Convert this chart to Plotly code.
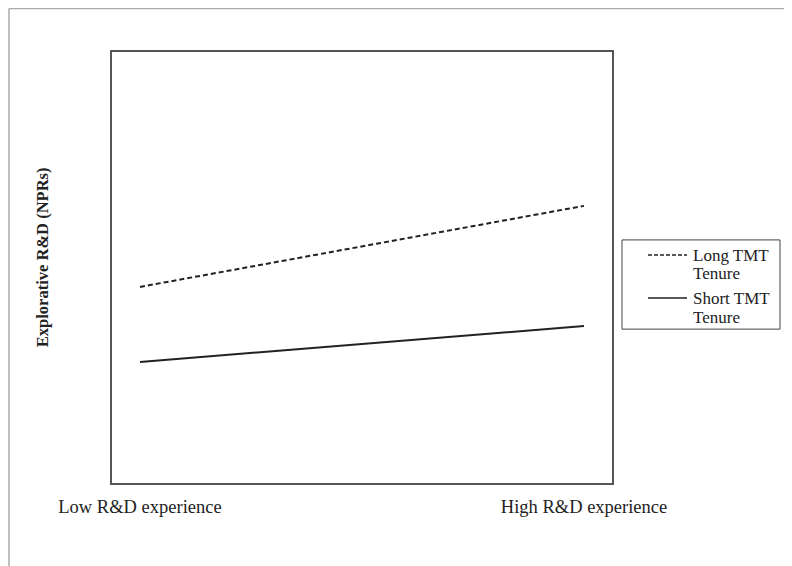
import plotly.graph_objects as go

# Data
x_levels = [0, 1]
x_labels = ["Low R&D experience", "High R&D experience"]
long_tenure = [0.455, 0.643]
short_tenure = [0.281, 0.364]
series_names = ["Long TMT Tenure", "Short TMT Tenure"]
legend_lines = [["Long TMT", "Tenure"], ["Short TMT", "Tenure"]]
y_title = "Explorative R&D (NPRs)"

FONT = "Liberation Serif, Times New Roman, serif"
INK = "#222222"

fig = go.Figure()
fig.add_trace(go.Scatter(
    x=x_levels, y=long_tenure, mode="lines", name=series_names[0],
    line=dict(color=INK, width=2, dash="5px,3px"), showlegend=False,
))
fig.add_trace(go.Scatter(
    x=x_levels, y=short_tenure, mode="lines", name=series_names[1],
    line=dict(color=INK, width=2), showlegend=False,
))

shapes = [
    # outer page frame
    dict(type="line", xref="paper", yref="paper", x0=-0.206, x1=-0.206,
         y0=-0.25, y1=1.1009, line=dict(color="#aaaaaa", width=1.5)),
    dict(type="line", xref="paper", yref="paper", x0=-0.206, x1=1.4,
         y0=1.1009, y1=1.1009, line=dict(color="#aaaaaa", width=1.5)),
    # legend box
    dict(type="rect", xref="paper", yref="paper", x0=1.02, x1=1.336,
         y0=0.357, y1=0.564, line=dict(color="#444444", width=1),
         fillcolor="white"),
    # legend samples
    dict(type="line", xref="paper", yref="paper", x0=1.072, x1=1.15,
         y0=0.529, y1=0.529, line=dict(color=INK, width=1.5, dash="4px,2px")),
    dict(type="line", xref="paper", yref="paper", x0=1.072, x1=1.15,
         y0=0.429, y1=0.429, line=dict(color=INK, width=1.5)),
]
legend_y = [[0.529, 0.487], [0.429, 0.385]]
annotations = [dict(
    text="<b>" + y_title + "</b>", xref="paper", yref="paper", x=-0.14, y=0.524,
    xanchor="center", yanchor="middle", textangle=-90, showarrow=False,
    font=dict(family=FONT, size=16.5, color=INK),
)]
for lines, ys in zip(legend_lines, legend_y):
    for txt, yy in zip(lines, ys):
        annotations.append(dict(
            text=txt, xref="paper", yref="paper", x=1.158, y=yy,
            xanchor="left", yanchor="middle", showarrow=False,
            font=dict(family=FONT, size=17, color=INK),
        ))

fig.update_layout(
    width=784, height=558,
    margin=dict(l=104, r=180, t=44, b=83),
    paper_bgcolor="white", plot_bgcolor="white",
    font=dict(family=FONT, color=INK),
    showlegend=False,
    xaxis=dict(
        range=[-0.063, 1.063], tickvals=x_levels, ticktext=x_labels,
        showgrid=False, zeroline=False, ticks="", ticklen=0,
        ticklabelstandoff=6,
        showline=True, mirror=True, linecolor="#555555", linewidth=1.5,
        tickfont=dict(family=FONT, size=18.5, color=INK),
        fixedrange=True,
    ),
    yaxis=dict(
        range=[0, 1], showticklabels=False, showgrid=False, zeroline=False,
        ticks="", showline=True, mirror=True, linecolor="#555555", linewidth=1.5,
        fixedrange=True,
    ),
    shapes=shapes,
    annotations=annotations,
)

fig.write_html("out.html")
